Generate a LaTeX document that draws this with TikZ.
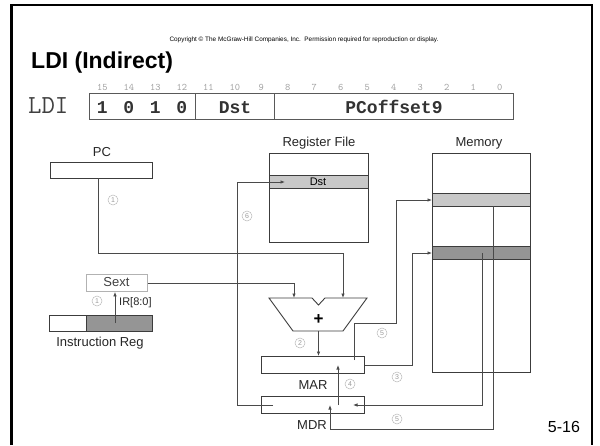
\documentclass[tikz,border=0pt]{standalone}
\usepackage{fontspec}
\setmainfont{Liberation Sans}
\newfontfamily\monofont{Liberation Mono}
\usetikzlibrary{arrows.meta}
\definecolor{ln}{HTML}{4A4A4A}
\definecolor{bx}{HTML}{3C3C3C}
\definecolor{lt}{HTML}{C8C8C8}
\definecolor{dk}{HTML}{959595}
\definecolor{cn}{HTML}{9A9A9A}
\definecolor{bitc}{HTML}{A0A0A0}
\begin{document}
\begin{tikzpicture}[x=1pt,y=-1pt,
  box/.style={draw=bx,line width=0.9pt,inner sep=0pt,anchor=north west},
  wire/.style={draw=ln,line width=0.8pt},
  arr/.style={wire,-{Latex[length=4.5pt,width=3.6pt]}},
  lbl/.style={font=\fontsize{13}{13}\selectfont,text=black!85,inner sep=0pt},
  cnum/.style={circle,draw=cn!70,line width=0.5pt,inner sep=0pt,minimum size=10pt,
    font=\fontsize{7}{7}\selectfont,text=cn},
  bitn/.style={font=\ttfamily\fontsize{10}{10}\selectfont,text=bitc,inner sep=0pt,anchor=base},
  fld/.style={font=\monofont\bfseries\fontsize{18}{18}\selectfont,text=black!80,inner sep=0pt,anchor=base}
]
\useasboundingbox (0,0) rectangle (600,445);
% frame
\draw[line width=1.5pt] (11,5) -- (592,5) -- (592,445);
\draw[line width=3pt] (11,445) -- (11,4.25);
% header
\node[font=\fontsize{6.4}{7}\selectfont,inner sep=0pt] (copy) at (304,40)
  {Copyright \textcopyright{} The McGraw-Hill Companies, Inc.\ \ Permission required for reproduction or display.};
\node[font=\bfseries\fontsize{23}{23}\selectfont,anchor=west,inner sep=0pt] (title) at (31,63) {LDI (Indirect)};
% instruction format
\node[font=\ttfamily\fontsize{26}{26}\selectfont,text=black!75,anchor=base west,inner sep=0pt] (ldi) at (28,113) {LDI};
\node[box,draw=black!65,minimum width=424pt,minimum height=26pt] (ins) at (89,93) {};
\draw[draw=black!65,line width=0.9pt] (195,93) -- (195,119) (274.5,93) -- (274.5,119);
\foreach \b in {15,...,0}{
  \node[bitn] (b\b) at ({89+(15-\b+0.5)*26.5},90) {\b};
}
\node[fld] (f15) at ({89+0.5*26.5},113) {1};
\node[fld] (f14) at ({89+1.5*26.5},113) {0};
\node[fld] (f13) at ({89+2.5*26.5},113) {1};
\node[fld] (f12) at ({89+3.5*26.5},113) {0};
\node[fld] (fdst) at (235,113) {Dst};
\node[fld] (foff) at (394,113) {PCoffset9};
% PC
\node[box,minimum width=102pt,minimum height=16pt] (pc) at (50,162) {};
\node[lbl] (pcl) at (102,152) {PC};
% Register file
\node[box,minimum width=99pt,minimum height=89pt] (rf) at (269,153) {};
\node[box,fill=lt,minimum width=99pt,minimum height=13pt] (dst) at (269,175) {};
\node[font=\fontsize{11}{11}\selectfont,inner sep=0pt] (dstl) at (318,181.5) {Dst};
\node[lbl] (rfl) at (319,143) {Register File};
% Memory
\node[box,minimum width=98pt,minimum height=219pt] (mem) at (432,153) {};
\node[box,fill=lt,minimum width=98pt,minimum height=13pt] (lrow) at (432,193) {};
\node[box,fill=dk,minimum width=98pt,minimum height=13pt] (drow) at (432,246) {};
\node[lbl] (meml) at (479,143) {Memory};
% Sext and IR
\node[box,draw=black!30,minimum width=61pt,minimum height=17pt] (sext) at (86,274) {};
\node[lbl,text=black!75] (sextl) at (116.5,282.5) {Sext};
\node[box,minimum width=103pt,minimum height=16pt] (ir) at (49,315) {};
\node[box,fill=dk,minimum width=66pt,minimum height=16pt] (irlo) at (86,315) {};
\node[lbl] (irl) at (100,343) {Instruction Reg};
\node[font=\fontsize{11}{11}\selectfont,anchor=west,inner sep=0pt,text=black!85] (irtag) at (119,303) {IR[8:0]};
% adder
\draw[draw=bx,line width=0.9pt] (269,298) -- (312,298) -- (318.5,305) -- (325,298) -- (367,298)
  -- (343,331) -- (293,331) -- cycle;
\node[font=\bfseries\fontsize{17}{17}\selectfont,inner sep=0pt] (plus) at (318.5,320) {+};
\coordinate (addL) at (294,298);
\coordinate (addR) at (343,298);
\coordinate (addO) at (318.5,331);
% MAR / MDR
\node[box,minimum width=103pt,minimum height=17pt] (mar) at (261,356) {};
\node[box,minimum width=103pt,minimum height=17pt] (mdr) at (261,396) {};
\node[lbl] (marl) at (313,385) {MAR};
\node[lbl] (mdrl) at (312,425) {MDR};
% named end points
\coordinate (pcout) at (98,178);
\coordinate (irout) at (115,323);
\coordinate (marin) at (354,360);
\coordinate (marmid) at (338,365);
\coordinate (mdrmid) at (338,405);
\coordinate (mdrin) at (330,405);
\coordinate (mdrr) at (353,405);
\coordinate (mdrl6) at (273,405);
\coordinate (dstin) at (285,182);
\coordinate (ltin) at (432,200);
\coordinate (dkin) at (432,253);
\coordinate (ltout) at (493,206);
\coordinate (dkout) at (482,253);
% connectors
\draw[arr] (pcout) |- (343,253) -- (addR);
\draw[arr] (sext.east) -| (addL);
\draw[arr] (irout) -- (irout |- sext.south);
\draw[arr] (addO) -- (addO |- mar.north);
\draw[arr] (mar.east) -| (412,253) -- (dkin);
\draw[arr] (marin) |- (396,323) |- (ltin);
\draw[arr] (ltout) |- (330,429) -- (mdrin);
\draw[arr] (dkout) |- (mdrr);
\draw[arr] (mdrmid) -- (marmid);
\draw[arr] (mdrl6) -| (237,182) -- (dstin);
% step numbers
\node[cnum] (s1a) at (113,200) {1};
\node[cnum] (s6) at (247,216) {6};
\node[cnum] (s1b) at (97,301) {1};
\node[cnum] (s2) at (300,343) {2};
\node[cnum] (s5a) at (382,333) {5};
\node[cnum] (s4) at (350,384) {4};
\node[cnum] (s3) at (397,377) {3};
\node[cnum] (s5b) at (397,419) {5};
% slide number
\node[font=\fontsize{16}{16}\selectfont,inner sep=0pt] (sn) at (564,427) {5-16};
\end{tikzpicture}
\end{document}
